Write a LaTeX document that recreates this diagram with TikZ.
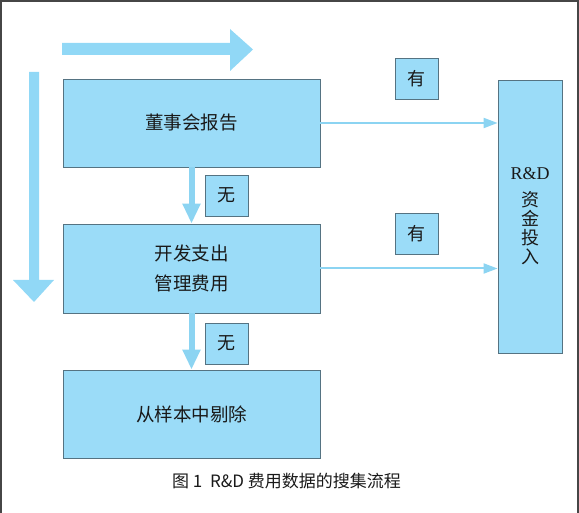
\documentclass[tikz,border=0pt]{standalone}
\usepackage{fontspec}
\setmainfont{Noto Sans CJK SC}
\newfontfamily\rdserif{Liberation Serif}
\usetikzlibrary{arrows.meta}
\definecolor{boxfill}{RGB}{155,220,248}
\definecolor{boxline}{RGB}{85,115,130}
\definecolor{arrowblue}{RGB}{140,212,242}
\definecolor{bigblue}{RGB}{145,216,246}
\definecolor{frameline}{RGB}{70,70,70}
\definecolor{txt}{RGB}{25,25,25}
\tikzset{
  mainbox/.style={draw=boxline, line width=0.8pt, fill=boxfill, minimum width=257pt, minimum height=88pt, inner sep=0pt, text=txt, font=\fontsize{18.5}{30}\selectfont, align=center},
  tagbox/.style={draw=boxline, line width=0.8pt, fill=boxfill, minimum width=43pt, minimum height=41pt, inner sep=0pt, text=txt, font=\fontsize{18}{20}\selectfont},
  rdbox/.style={draw=boxline, line width=0.8pt, fill=boxfill, minimum width=64pt, minimum height=273pt, inner sep=0pt, text=txt, align=center, font=\fontsize{18}{19}\selectfont},
  sidearrow/.style={draw=arrowblue, line width=2pt, -{Triangle[length=14pt,width=10pt]}},
  downarrow/.style={draw=arrowblue, line width=6pt, -{Triangle[length=20pt,width=17pt]}},
  bigarrow/.style={fill=bigblue, draw=none}
}
\begin{document}
\begin{tikzpicture}[x=1pt,y=-1pt]
\useasboundingbox (0,0) rectangle (579,513);
% frame (open at the bottom)
\draw[frameline, line width=1.5pt] (1,513) -- (1,1) -- (578,1) -- (578,513);
% big decorative arrows
\fill[bigblue] (62,43) -- (230,43) -- (230,29) -- (253,49.5) -- (230,71) -- (230,55) -- (62,55) -- cycle;
\fill[bigblue] (29,72) -- (39,72) -- (39,280) -- (54,280) -- (34,302) -- (13,280) -- (29,280) -- cycle;
% boxes
\node[mainbox] (b1) at (191.5,123) {董事会报告};
\node[mainbox, minimum height=89pt] (b2) at (191.5,268.5) {开发支出\\管理费用};
\node[mainbox] (b3) at (191.5,414) {从样本中剔除};
\node[rdbox] (rd) at (530,216.5) {\rdserif R\&D\\[8pt]资\\金\\投\\入};
\node[tagbox] (y1) at (416.5,78.5) {有};
\node[tagbox] (y2) at (416.5,233.5) {有};
\node[tagbox] (n1) at (226.5,195.5) {无};
\node[tagbox] (n2) at (226.5,343.5) {无};
% connectors
\draw[sidearrow] (b1.east) -- (b1.east -| rd.west);
\draw[sidearrow] (b2.east) -- (b2.east -| rd.west);
\draw[downarrow] (b1.south) -- (b2.north);
\draw[downarrow] (b2.south) -- (b3.north);
% caption
\node[text=txt, font=\fontsize{17}{18}\selectfont] (cap) at (286.5,481) {图 1\ \ R\&D 费用数据的搜集流程};
\end{tikzpicture}
\end{document}
